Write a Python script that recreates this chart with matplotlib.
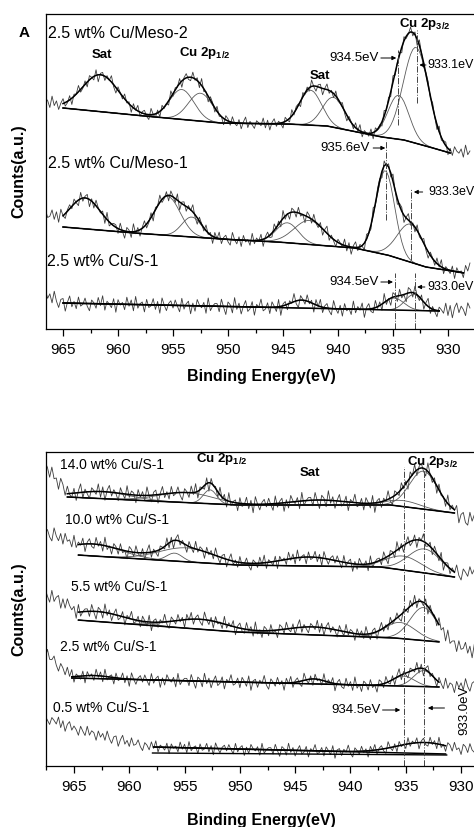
import numpy as np
import matplotlib.pyplot as plt
from matplotlib.ticker import MultipleLocator

plt.rcParams['font.family'] = ['Liberation Sans', 'DejaVu Sans']
plt.rcParams['mathtext.fontset'] = 'custom'
plt.rcParams['mathtext.rm'] = 'Liberation Sans'
plt.rcParams['mathtext.bf'] = 'Liberation Sans:bold'

# binding energy grid of the scans (eV)
energy = np.linspace(967.6, 928.0, 199)

# hand-read scan noise (relative units)
noise = np.array([
    0.3, -0.6, 0.8, -0.1, -0.9, 0.5, 0.2, -0.7, 1.0, -0.3, 0.4, -0.8, 0.1, 0.7, -0.5, -0.2, 0.6, -0.9, 0.3, 0.0,
    0.9, -0.4, -0.2, 0.5, -0.7, 0.6, 0.1, -0.5, 0.8, -1.0, 0.2, 0.4, -0.6, 0.3, -0.1, 0.9, -0.3, -0.8, 0.5, 0.1,
    -0.4, 0.7, -0.2, 0.3, -0.9, 0.6, -0.1, 0.8, -0.6, 0.2, 0.5, -0.3, -0.7, 0.9, 0.0, -0.5, 0.4, -0.8, 0.6, -0.2,
    0.1, -0.6, 0.9, -0.4, 0.3, -0.1, 0.7, -0.9, 0.2, 0.6, -0.3, -0.5, 0.8, -0.2, 0.4, -0.7, 1.0, -0.4, 0.1, -0.8,
    0.5, 0.2, -0.6, 0.7, -0.3, 0.0, -0.9, 0.6, 0.3, -0.5, 0.8, -0.1, -0.4, 0.5, -0.8, 0.2, 0.9, -0.6, 0.3, -0.2,
    -0.7, 0.4, 0.1, -0.3, 0.8, -0.6, 0.5, -0.9, 0.2, 0.7, -0.4, 0.3, -0.1, -0.8, 0.6, 0.0, -0.5, 0.9, -0.3, 0.4,
    0.2, -0.8, 0.6, -0.2, 0.4, -0.5, 0.9, -0.1, -0.7, 0.3, 0.5, -0.9, 0.1, 0.8, -0.4, 0.2, -0.6, 0.7, -0.3, -0.1,
    0.6, -0.3, -0.8, 0.4, 0.1, -0.5, 0.7, -0.2, 0.9, -0.7, 0.3, 0.0, -0.4, 0.6, -0.9, 0.5, -0.1, 0.2, -0.6, 0.8,
    -0.2, 0.5, -0.7, 0.9, -0.4, 0.1, 0.3, -0.8, 0.6, -0.3, -0.1, 0.7, -0.5, 0.4, -0.9, 0.8, 0.0, -0.6, 0.2, 0.5,
    -0.3, 0.6, -0.1, -0.7, 0.8, -0.4, 0.2, 0.5, -0.9, 0.3, -0.6, 0.7, 0.1, -0.2, 0.4, -0.8, 0.9, -0.5, 0.0, 0.3,
])

# ---- panel A spectra: background anchors, fit window, peaks (centre eV, height, sigma eV)
meso2_bg_e = [967.6, 965.0, 958.6, 950.7, 944.6, 941.0, 938.3, 936.0, 934.0, 932.0, 929.8, 928.0]
meso2_bg_y = [231, 221, 214, 206, 205, 203, 197, 192, 189, 183, 176, 178]
meso2_fit = (965.0, 929.8)
meso2_peaks = [(961.6, 37, 1.65), (954.2, 30, 1.1), (952.5, 28, 1.1),
               (942.5, 35, 1.0), (940.4, 30, 1.0), (934.5, 44, 0.95), (932.9, 96, 1.15)]

meso1_bg_e = [967.6, 965.5, 965.0, 958.6, 950.7, 945.5, 938.5, 935.5, 932.0, 928.5, 928.0]
meso1_bg_y = [118, 108, 102, 96, 90, 87, 81, 74, 62, 56, 62]
meso1_fit = (965.0, 928.5)
meso1_peaks = [(963.0, 31, 1.4), (955.5, 39, 1.15), (953.3, 20, 0.9),
               (944.6, 20, 1.0), (942.6, 24, 1.4), (935.7, 84, 0.85), (933.4, 38, 1.2)]

s1a_bg_e = [967.6, 965.0, 930.8, 928.0]
s1a_bg_y = [38, 26, 18, 21]
s1a_fit = (965.0, 930.8)
s1a_peaks = [(943.3, 8, 1.0), (934.9, 12, 0.9), (933.1, 16, 0.8)]

# ---- panel B spectra (Cu loading series)
w140_bg_e = [967.6, 966.5, 965.6, 950.3, 936.4, 930.6, 929.5, 928.0]
w140_bg_y = [298, 285, 269, 261, 261, 253, 245, 250]
w140_fit = (965.6, 930.6)
w140_peaks = [(962.5, 7, 2.5), (954.8, 10, 2.5), (952.7, 14, 0.6),
              (942.8, 5, 2.5), (935.2, 6, 1.5), (933.4, 38, 1.27)]

w100_bg_e = [967.6, 966.0, 964.7, 950.3, 937.3, 930.6, 928.0]
w100_bg_y = [230, 222, 211, 201, 199, 189, 196]
w100_fit = (964.7, 930.6)
w100_peaks = [(963.3, 12, 2.5), (955.9, 8, 0.7), (954.8, 14, 2.5),
              (943.7, 9, 2.5), (935.2, 14, 1.6), (933.3, 24, 1.5)]

w55_bg_e = [967.6, 966.0, 964.7, 950.3, 936.0, 931.9, 928.0]
w55_bg_y = [170, 160, 146, 134, 128, 124, 113]
w55_fit = (964.7, 931.9)
w55_peaks = [(962.9, 10, 2.5), (953.5, 10, 2.5), (943.3, 8, 2.5),
             (935.5, 16, 1.4), (933.4, 33, 1.2)]

w25_bg_e = [967.6, 966.3, 965.2, 931.9, 928.0]
w25_bg_y = [113, 100, 88, 79, 81]
w25_fit = (965.2, 931.9)
w25_peaks = [(963.2, 3, 1.5), (943.3, 5, 1.0), (935.2, 10, 1.0), (933.4, 16, 0.9)]

w05_bg_e = [967.6, 964.0, 961.0, 957.9, 931.3, 928.0]
w05_bg_y = [48, 34, 26, 19, 12, 15]
w05_fit = (957.9, 931.3)
w05_peaks = [(933.3, 11, 2.5)]


def draw_spectrum(ax, bg_e, bg_y, fit, peaks, amp, shift):
    base = np.interp(energy, bg_e[::-1], bg_y[::-1])
    comps = [h * np.exp(-(energy - c) ** 2 / (2 * s ** 2)) for c, h, s in peaks]
    env = base + np.sum(comps, axis=0)
    raw = env + amp * np.roll(noise, shift)[:len(energy)]
    ax.plot(energy, raw, color='#3c3c3c', lw=0.6)
    m = (energy <= fit[0] + 1e-6) & (energy >= fit[1] - 1e-6)
    for comp in comps:
        ax.plot(energy[m], base[m] + comp[m], color='#5a5a5a', lw=0.6)
    ax.plot(energy[m], env[m], color='black', lw=1.1)
    ax.plot(energy[m], base[m], color='black', lw=1.1)


def style_axis(ax, xlim, ylim):
    ax.set_xlim(*xlim)
    ax.set_ylim(*ylim)
    ax.spines['right'].set_visible(False)
    for s in ax.spines.values():
        s.set_linewidth(0.9)
    ax.xaxis.set_major_locator(MultipleLocator(5))
    ax.xaxis.set_minor_locator(MultipleLocator(2.5))
    ax.tick_params(axis='x', which='major', direction='out', length=5, width=0.9, labelsize=11, pad=5)
    ax.tick_params(axis='x', which='minor', direction='out', length=3, width=0.9)
    ax.tick_params(axis='y', left=False, labelleft=False)
    ax.set_xlabel('Binding Energy(eV)', fontsize=11.5, fontweight='bold')


def mark(ax, e, y0, y1):
    ax.plot([e, e], [y0, y1], color='#444444', lw=0.7, ls='-.')


def arrow(ax, tail, head, y):
    ax.annotate('', xy=(head, y), xytext=(tail, y),
                arrowprops=dict(arrowstyle='-|>', color='black', lw=0.7,
                                mutation_scale=6, shrinkA=0, shrinkB=0))


fig = plt.figure(figsize=(4.74, 8.27), dpi=100)

# ---------------- panel A
ax1 = fig.add_axes([46 / 474, 1 - 329 / 827, 430 / 474, 315 / 827])
draw_spectrum(ax1, meso2_bg_e, meso2_bg_y, meso2_fit, meso2_peaks, 7, 0)
draw_spectrum(ax1, meso1_bg_e, meso1_bg_y, meso1_fit, meso1_peaks, 8, 37)
draw_spectrum(ax1, s1a_bg_e, s1a_bg_y, s1a_fit, s1a_peaks, 9, 83)
style_axis(ax1, (966.55, 927.45), (0, 315))
ax1.xaxis.set_label_coords(0.5, -0.128)

lbl = dict(fontsize=11.5, ha='left', va='center')
ax1.text(966.4, 296, '2.5 wt% Cu/Meso-2', **lbl)
ax1.text(966.4, 166, '2.5 wt% Cu/Meso-1', **lbl)
ax1.text(966.5, 67, '2.5 wt% Cu/S-1', **lbl)

pk = dict(fontsize=9.5, fontweight='bold', ha='center', va='center')
ax1.text(961.5, 274, 'Sat', **pk)
ax1.text(952.1, 276, r'Cu 2p$_{\mathbf{1/2}}$', **pk)
ax1.text(941.6, 253, 'Sat', **pk)
ax1.text(932.1, 305, r'Cu 2p$_{\mathbf{3/2}}$', **pk)

ev = dict(fontsize=9.5, va='center')
evr = dict(fontsize=9, va='center', ha='left')
mark(ax1, 934.55, 204, 279)
mark(ax1, 932.8, 226, 299)
ax1.text(936.3, 271, '934.5eV', ha='right', **ev)
arrow(ax1, 936.1, 934.7, 271)
ax1.text(931.9, 264, '933.1eV', **evr)
arrow(ax1, 932.0, 932.6, 264)

mark(ax1, 935.6, 109, 189)
mark(ax1, 933.4, 69, 141)
ax1.text(937.1, 181, '935.6eV', ha='right', **ev)
arrow(ax1, 936.8, 935.7, 181)
ax1.text(931.75, 137, '933.3eV', **evr)
arrow(ax1, 932.3, 933.1, 137)

mark(ax1, 934.8, 0, 56)
mark(ax1, 933.0, 0, 56)
ax1.text(936.3, 47, '934.5eV', ha='right', **ev)
arrow(ax1, 936.1, 935.0, 47)
ax1.text(931.85, 42, '933.0eV', **evr)
arrow(ax1, 932.1, 932.8, 42)

# ---------------- panel B
ax2 = fig.add_axes([46 / 474, 1 - 766 / 827, 430 / 474, 314 / 827])
draw_spectrum(ax2, w140_bg_e, w140_bg_y, w140_fit, w140_peaks, 9.5, 120)
draw_spectrum(ax2, w100_bg_e, w100_bg_y, w100_fit, w100_peaks, 8.5, 151)
draw_spectrum(ax2, w55_bg_e, w55_bg_y, w55_fit, w55_peaks, 8.5, 19)
draw_spectrum(ax2, w25_bg_e, w25_bg_y, w25_fit, w25_peaks, 8, 64)
draw_spectrum(ax2, w05_bg_e, w05_bg_y, w05_fit, w05_peaks, 7, 102)
ax2.plot([957.9, 931.3], [13, 11], color='black', lw=1.0)
style_axis(ax2, (967.53, 928.65), (0, 314))
ax2.xaxis.set_label_coords(0.5, -0.150)

lbl2 = dict(fontsize=10, ha='left', va='center')
ax2.text(966.3, 301, '14.0 wt% Cu/S-1', **lbl2)
ax2.text(965.8, 246, '10.0 wt% Cu/S-1', **lbl2)
ax2.text(965.3, 179, '5.5 wt% Cu/S-1', **lbl2)
ax2.text(966.3, 119, '2.5 wt% Cu/S-1', **lbl2)
ax2.text(966.9, 58, '0.5 wt% Cu/S-1', **lbl2)

ax2.text(951.6, 307, r'Cu 2p$_{\mathbf{1/2}}$', **pk)
ax2.text(943.7, 293, 'Sat', **pk)
ax2.text(932.6, 304, r'Cu 2p$_{\mathbf{3/2}}$', **pk)

mark(ax2, 935.15, 0, 299)
mark(ax2, 933.35, 0, 296)
ax2.text(937.3, 56, '934.5eV', ha='right', **ev)
arrow(ax2, 937.1, 935.5, 56)
arrow(ax2, 931.5, 933.0, 58)
ax2.text(929.7, 56, '933.0eV', rotation=90, ha='center', fontsize=9.5, va='center')

# shared annotations
fig.text(19 / 474, 1 - 171 / 827, 'Counts(a.u.)', rotation=90, fontsize=11.5,
         fontweight='bold', ha='center', va='center')
fig.text(19 / 474, 1 - 609 / 827, 'Counts(a.u.)', rotation=90, fontsize=11.5,
         fontweight='bold', ha='center', va='center')
fig.text(24 / 474, 1 - 33 / 827, 'A', fontsize=11, fontweight='bold', ha='center', va='center')

fig.savefig('out.png', dpi=100)
